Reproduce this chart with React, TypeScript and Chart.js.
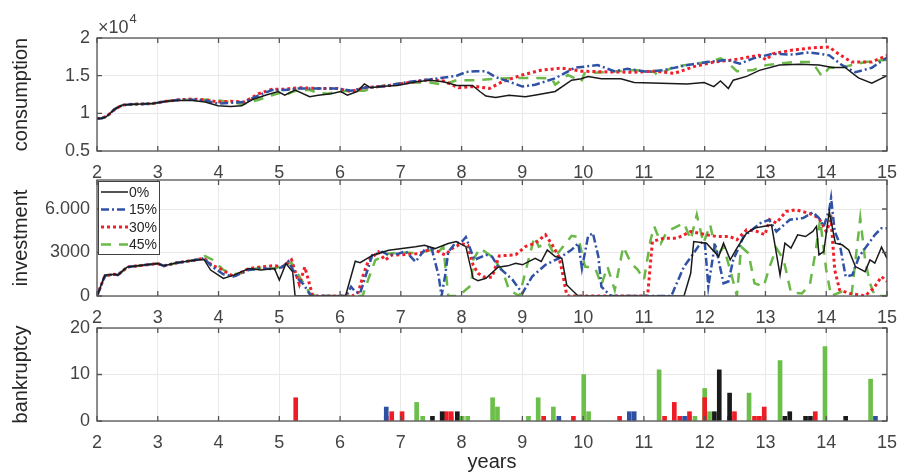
import React, { useEffect, useRef } from 'react';
import { Chart, registerables } from 'chart.js';

Chart.register(...registerables);

// ---------------- DATA ----------------
const seriesLabels = ['0%', '15%', '30%', '45%'];
const xTickValues = [2, 3, 4, 5, 6, 7, 8, 9, 10, 11, 12, 13, 14, 15];
const consTickValues = [5000, 10000, 15000, 20000];
const consTickLabels = ['0.5', '1', '1.5', '2'];
const invTickValues = [0, 3000, 6000];
const invTickLabels = ['0', '3000', '6.000'];
const bankTickValues = [0, 10, 20];
const bankTickLabels = ['0', '10', '20'];

// consumption [year, value]
const cons0: [number, number][] = [
  [2.0, 9300], [2.08, 9350], [2.16, 9600], [2.3, 10600], [2.42, 11100], [2.59, 11200], [2.75, 11250], [2.92, 11300],
  [3.14, 11600], [3.35, 11700], [3.57, 11700], [3.78, 11500], [3.99, 11000], [4.2, 10900], [4.38, 11000], [4.55, 11800],
  [4.77, 12400], [4.98, 12900], [5.09, 12400], [5.26, 13100], [5.5, 12200], [5.64, 12400], [5.85, 12600], [6.01, 12900],
  [6.12, 12400], [6.28, 12900], [6.4, 13900], [6.5, 13400], [6.72, 13600], [6.94, 13700], [7.26, 14200], [7.48, 14400],
  [7.7, 14200], [7.92, 13700], [8.18, 13700], [8.3, 12900], [8.4, 12300], [8.56, 12100], [8.78, 12400], [9.05, 12200],
  [9.27, 12500], [9.54, 12900], [9.81, 14400], [9.97, 14600], [10.08, 14900], [10.3, 14600], [10.62, 14600], [10.84, 14100],
  [11.28, 14000], [11.71, 13900], [11.99, 14100], [12.15, 13550], [12.26, 14300], [12.39, 13300], [12.47, 14400], [12.69, 14900],
  [12.9, 15700], [13.23, 16400], [13.56, 16500], [13.88, 16400], [14.1, 16100], [14.31, 16100], [14.53, 14700], [14.75, 14000],
  [15.0, 15000],
];
const cons15: [number, number][] = [
  [2.0, 9300], [2.08, 9350], [2.16, 9600], [2.3, 10600], [2.42, 11100], [2.59, 11200], [2.75, 11250], [2.92, 11300],
  [3.14, 11600], [3.35, 11800], [3.57, 11800], [3.78, 11700], [3.99, 11300], [4.2, 11400], [4.42, 11500], [4.66, 12400],
  [4.88, 13100], [5.09, 13100], [5.31, 13300], [5.64, 13300], [5.96, 13300], [6.18, 13000], [6.4, 13400], [6.72, 13600],
  [7.15, 14200], [7.48, 14500], [7.75, 14800], [7.92, 15000], [8.08, 15500], [8.24, 15600], [8.4, 15600], [8.56, 14800],
  [8.78, 14200], [9.0, 13550], [9.21, 13800], [9.54, 14650], [9.86, 16050], [10.24, 16400], [10.51, 15600], [10.73, 15900],
  [11.06, 15500], [11.33, 15750], [11.71, 16400], [12.04, 16800], [12.37, 17100], [12.58, 16600], [12.8, 17300], [13.12, 17900],
  [13.45, 17800], [13.72, 18100], [14.05, 17700], [14.26, 16400], [14.48, 15450], [14.75, 16050], [15.0, 17400],
];
const cons30: [number, number][] = [
  [2.0, 9300], [2.08, 9350], [2.16, 9600], [2.3, 10600], [2.42, 11100], [2.59, 11200], [2.75, 11250], [2.92, 11300],
  [3.14, 11600], [3.35, 11800], [3.57, 11900], [3.78, 11800], [3.99, 11500], [4.2, 11600], [4.42, 11500], [4.66, 12600],
  [4.88, 13200], [5.09, 13200], [5.31, 13400], [5.64, 13300], [5.96, 13300], [6.18, 12900], [6.4, 13400], [6.72, 13600],
  [7.15, 14100], [7.48, 14500], [7.7, 14300], [7.95, 13400], [8.1, 13500], [8.24, 13550], [8.46, 13300], [8.67, 14200],
  [9.0, 15100], [9.32, 15750], [9.65, 16000], [9.97, 15600], [10.4, 15500], [10.84, 15450], [11.17, 15600], [11.5, 15300],
  [11.82, 16200], [12.15, 16800], [12.47, 17100], [12.9, 17700], [13.01, 17100], [13.12, 17900], [13.45, 18400], [13.77, 18700],
  [14.05, 18800], [14.2, 17900], [14.42, 16800], [14.75, 16800], [15.0, 17700],
];
const cons45: [number, number][] = [
  [2.0, 9300], [2.08, 9350], [2.16, 9600], [2.3, 10600], [2.42, 11100], [2.59, 11200], [2.75, 11250], [2.92, 11300],
  [3.14, 11600], [3.35, 11800], [3.57, 11800], [3.8, 11800], [4.0, 11700], [4.2, 11500], [4.4, 11200], [4.66, 11800],
  [4.88, 12400], [5.0, 12700], [5.09, 12400], [5.2, 12800], [5.31, 13100], [5.5, 13100], [5.64, 12700], [5.8, 12600],
  [5.96, 12900], [6.18, 13000], [6.4, 13000], [6.6, 13500], [6.8, 13800], [7.15, 14100], [7.48, 14100], [7.7, 13800],
  [7.92, 14400], [8.24, 14400], [8.56, 14600], [9.0, 14700], [9.48, 14650], [9.54, 13800], [9.75, 15100], [9.97, 14200],
  [10.02, 15300], [10.4, 15500], [10.84, 15750], [11.17, 15500], [11.22, 15100], [11.5, 16200], [12.04, 16800], [12.26, 17300],
  [12.37, 16800], [12.53, 15600], [12.8, 15750], [13.01, 16400], [13.45, 16800], [13.77, 16800], [13.93, 14900], [14.05, 16050],
  [14.31, 16200], [14.64, 16800], [15.0, 17100],
];

// investment [year, value]
const inv0: [number, number][] = [
  [2.0, 0], [2.13, 1440], [2.29, 1500], [2.34, 1440], [2.5, 2000], [2.78, 2130], [3.0, 2240], [3.1, 2080], [3.32, 2290],
  [3.6, 2470], [3.76, 2520], [3.87, 1790], [4.08, 1210], [4.25, 1440], [4.5, 1900], [4.7, 1790], [4.92, 1900], [5.0, 1100],
  [5.11, 2240], [5.22, 1670], [5.26, 0], [5.5, 0], [6.0, 0], [6.09, 0], [6.25, 2400], [6.33, 2300], [6.53, 2800],
  [6.8, 3160], [7.02, 3270], [7.24, 3390], [7.39, 3500], [7.56, 3270], [7.78, 3620], [7.91, 3760], [8.07, 3400], [8.19, 1220],
  [8.27, 1060], [8.4, 1220], [8.6, 1980], [8.76, 2080], [8.89, 2260], [9.0, 2150], [9.21, 2600], [9.31, 2380], [9.41, 3180],
  [9.54, 2720], [9.65, 2600], [9.73, 760], [9.9, 70], [9.93, 0], [11.66, 0], [11.77, 1570], [11.82, 3760], [12.03, 3640],
  [12.23, 2720], [12.31, 3640], [12.42, 2490], [12.53, 3300], [12.69, 4340], [12.82, 4680], [12.96, 4800], [13.1, 4900],
  [13.24, 1450], [13.32, 3640], [13.42, 3300], [13.53, 4220], [13.66, 4100], [13.78, 4450], [13.84, 4800], [13.88, 2840],
  [13.96, 3070], [14.05, 5840], [14.15, 3640], [14.26, 3530], [14.37, 3180], [14.48, 2030], [14.64, 1680], [14.72, 2490],
  [14.8, 2260], [14.91, 3370], [15.0, 2600],
];
const inv15: [number, number][] = [
  [2.0, 0], [2.13, 1400], [2.29, 1500], [2.34, 1440], [2.5, 2000], [2.78, 2130], [3.0, 2240], [3.1, 2080], [3.32, 2290],
  [3.6, 2470], [3.76, 2600], [3.9, 2000], [4.08, 1500], [4.25, 1350], [4.5, 1800], [4.7, 1900], [4.92, 1850], [5.05, 2000],
  [5.15, 2400], [5.3, 1220], [5.4, 800], [5.52, 0], [6.1, 0], [6.18, 640], [6.25, 300], [6.33, 180], [6.53, 2820], [6.7, 3040],
  [6.8, 2820], [6.97, 2930], [7.08, 3090], [7.24, 2360], [7.4, 3230], [7.5, 3390], [7.62, 1440], [7.67, 0], [7.73, 1440],
  [7.78, 3040], [7.89, 3620], [8.0, 3730], [8.07, 4060], [8.21, 2490], [8.4, 2840], [8.5, 2720], [8.6, 2030], [8.84, 1110],
  [9.0, 180], [9.16, 1340], [9.38, 2150], [9.6, 2600], [9.81, 3180], [9.92, 3640], [9.98, 1900], [10.08, 4100], [10.16, 4340],
  [10.25, 2720], [10.3, 650], [10.41, 180], [10.46, 0], [11.45, 0], [11.66, 2030], [11.8, 2840], [11.93, 3640], [12.0, 3760],
  [12.06, 650], [12.17, 3640], [12.31, 880], [12.39, 1000], [12.47, 2490], [12.64, 4100], [12.92, 5030], [13.06, 5260],
  [13.18, 4450], [13.4, 5260], [13.62, 5380], [13.78, 5770], [13.88, 5380], [13.96, 4800], [14.05, 5950], [14.08, 6760],
  [14.14, 4450], [14.22, 3640], [14.32, 1340], [14.43, 1450], [14.54, 2720], [14.7, 3640], [14.8, 4220], [14.91, 4680],
  [15.0, 4680],
];
const inv30: [number, number][] = [
  [2.0, 0], [2.13, 1400], [2.29, 1500], [2.34, 1440], [2.5, 2000], [2.78, 2130], [3.0, 2240], [3.1, 2080], [3.32, 2290],
  [3.6, 2470], [3.76, 2600], [3.9, 2100], [4.0, 1950], [4.25, 1350], [4.5, 1900], [4.7, 2000], [4.92, 2100], [5.05, 2000],
  [5.2, 2500], [5.33, 800], [5.42, 2000], [5.55, 0], [6.2, 0], [6.3, 250], [6.38, 1440], [6.47, 2470], [6.63, 3040],
  [6.74, 2470], [6.85, 2820], [7.08, 2860], [7.3, 2930], [7.52, 3270], [7.73, 2820], [7.84, 3270], [8.0, 3620], [8.1, 3500],
  [8.19, 2130], [8.27, 1560], [8.38, 1300], [8.5, 1300], [8.62, 2770], [8.89, 2840], [9.05, 3410], [9.21, 3640], [9.38, 4220],
  [9.49, 3530], [9.6, 2720], [9.65, 1800], [9.73, 70], [9.76, 0], [11.06, 0], [11.14, 3760], [11.33, 3990], [11.55, 3990],
  [11.77, 4450], [12.03, 4220], [12.2, 4100], [12.42, 4100], [12.53, 3880], [12.69, 4570], [12.86, 4450], [12.99, 4220],
  [13.07, 5260], [13.18, 5030], [13.34, 5840], [13.5, 5950], [13.73, 5680], [13.88, 5380], [14.0, 4450], [14.08, 5260],
  [14.14, 1800], [14.22, 420], [14.38, 180], [14.64, 0], [14.78, 530], [14.91, 1340], [15.0, 1000],
];
const inv45: [number, number][] = [
  [2.0, 0], [2.13, 1400], [2.29, 1500], [2.34, 1440], [2.5, 2000], [2.78, 2130], [3.0, 2240], [3.1, 2080], [3.32, 2290],
  [3.6, 2470], [3.78, 2750], [3.9, 2500], [4.08, 1800], [4.25, 1500], [4.4, 1600], [4.5, 1800], [4.7, 1950], [4.92, 1900],
  [5.05, 2100], [5.2, 2300], [5.35, 1200], [5.5, 200], [5.6, 0], [6.37, 0], [6.47, 1210], [6.58, 2470], [6.8, 2930],
  [7.08, 3000], [7.3, 2930], [7.46, 3160], [7.62, 3040], [7.7, 3400], [7.78, 0], [7.95, 0], [8.16, 750], [8.19, 2490],
  [8.3, 3300], [8.5, 2720], [8.68, 1680], [8.78, 420], [8.95, 0], [9.1, 2490], [9.2, 4100], [9.27, 3400], [9.43, 3640],
  [9.54, 2720], [9.81, 4150], [9.92, 4060], [10.03, 2030], [10.2, 1900], [10.3, 760], [10.4, 2030], [10.52, 420],
  [10.66, 3400], [10.79, 2260], [10.9, 1800], [11.0, 1110], [11.11, 3880], [11.17, 4800], [11.28, 3640], [11.38, 4450],
  [11.55, 4800], [11.66, 5030], [11.77, 3880], [11.87, 5610], [11.98, 3640], [12.09, 4920], [12.2, 2720], [12.31, 3400],
  [12.42, 1800], [12.53, 0], [12.6, 3400], [12.72, 2950], [12.82, 880], [12.97, 650], [13.07, 2030], [13.18, 3300],
  [13.3, 2490], [13.42, 230], [13.6, 180], [13.73, 760], [13.82, 2950], [13.9, 5260], [14.0, 1800], [14.08, 0], [14.26, 300],
  [14.42, 180], [14.56, 5380], [14.64, 2490], [14.72, 880], [14.8, 0], [15.0, 0],
];

// bankruptcy [year, count]
const bank0: [number, number][] = [
  [7.52, 1], [7.68, 2], [7.93, 2], [12.16, 2], [12.24, 11], [12.41, 6], [13.32, 1], [13.4, 2], [13.66, 1], [13.74, 1], [14.32, 1],
];
const bank15: [number, number][] = [
  [6.76, 3], [9.6, 1], [10.76, 2], [10.84, 2], [11.67, 1], [12.41, 1], [14.81, 1],
];
const bank30: [number, number][] = [
  [5.27, 5], [6.76, 1], [6.85, 2], [7.02, 2], [7.75, 2], [7.83, 2], [9.35, 1], [9.84, 1], [10.6, 1], [11.34, 1], [11.5, 4],
  [11.59, 1], [11.75, 2], [12.0, 5], [12.49, 2], [12.82, 1], [12.9, 1], [12.98, 3], [13.82, 2],
];
const bank45: [number, number][] = [
  [7.26, 4], [7.36, 1], [7.83, 1], [8.01, 1], [8.1, 1], [8.51, 5], [8.59, 3], [9.1, 1], [9.26, 5], [9.51, 3], [10.01, 10],
  [10.09, 2], [11.25, 11], [11.75, 1], [11.84, 1], [12.0, 7], [12.08, 2], [12.73, 6], [13.24, 13], [13.98, 16], [14.73, 9],
];

// ---------------- STYLE ----------------
const FONT = "'Liberation Sans', Arial, Helvetica, sans-serif";
const tickFont = { family: FONT, size: 18 };
const titleFont = { family: FONT, size: 20 };
const tickColor = '#444444';
const titleColor = '#262626';
const gridColor = '#e9e9e9';
const boxColor = '#555555';
const W = 908;
const H = 474;
const PLOT_LEFT = 97;
const PLOT_RIGHT = 895;

const lineStyles = [
  { color: '#1a1a1a', width: 1.5, dash: [] as number[] },
  { color: '#2f52a6', width: 2.5, dash: [8, 3, 2, 3] },
  { color: '#f0202a', width: 3, dash: [3, 3] },
  { color: '#6ab948', width: 2.5, dash: [10, 8] },
];
const barColors = ['#1a1a1a', '#2f4fa3', '#ee1c25', '#6cbf4a'];

const toPts = (arr: [number, number][]) => arr.map(([x, y]) => ({ x, y }));

// box + inward tick marks
const boxPlugin = {
  id: 'matlabBox',
  afterDatasetsDraw(chart: any) {
    const { ctx, chartArea: a, scales } = chart;
    ctx.save();
    ctx.strokeStyle = boxColor;
    ctx.lineWidth = 1.3;
    ctx.strokeRect(a.left, a.top, a.right - a.left, a.bottom - a.top);
    ctx.beginPath();
    const L = 5;
    scales.x.ticks.forEach((t: any) => {
      const px = scales.x.getPixelForValue(t.value);
      ctx.moveTo(px, a.bottom);
      ctx.lineTo(px, a.bottom - L);
      ctx.moveTo(px, a.top);
      ctx.lineTo(px, a.top + L);
    });
    scales.y.ticks.forEach((t: any) => {
      const py = scales.y.getPixelForValue(t.value);
      ctx.moveTo(a.left, py);
      ctx.lineTo(a.left + L, py);
      ctx.moveTo(a.right, py);
      ctx.lineTo(a.right - L, py);
    });
    ctx.stroke();
    ctx.restore();
  },
};

// x10^4 exponent label
const exponentPlugin = {
  id: 'exponent',
  afterDraw(chart: any) {
    const { ctx, chartArea: a } = chart;
    ctx.save();
    ctx.fillStyle = tickColor;
    ctx.textBaseline = 'alphabetic';
    ctx.textAlign = 'left';
    ctx.font = `18px ${FONT}`;
    const base = '\u00d710';
    const x0 = a.left + 1;
    const y0 = a.top - 5;
    ctx.fillText(base, x0, y0);
    const w = ctx.measureText(base).width;
    ctx.font = `13px ${FONT}`;
    ctx.fillText('4', x0 + w + 1, y0 - 10);
    ctx.restore();
  },
};

// MATLAB-like boxed legend inside plot area
const legendPlugin = {
  id: 'boxLegend',
  afterDraw(chart: any) {
    const { ctx, chartArea: a } = chart;
    const x = a.left + 1;
    const y = a.top + 1;
    const w = 61;
    const h = 73;
    ctx.save();
    ctx.fillStyle = '#ffffff';
    ctx.fillRect(x, y, w, h);
    ctx.strokeStyle = '#404040';
    ctx.lineWidth = 1;
    ctx.strokeRect(x + 0.5, y + 0.5, w, h);
    ctx.font = `14px ${FONT}`;
    ctx.textBaseline = 'middle';
    ctx.textAlign = 'left';
    chart.data.datasets.forEach((ds: any, i: number) => {
      const ry = y + 11 + i * 17.5;
      ctx.beginPath();
      ctx.strokeStyle = ds.borderColor;
      ctx.lineWidth = ds.borderWidth;
      ctx.setLineDash(ds.borderDash || []);
      ctx.moveTo(x + 3, ry);
      ctx.lineTo(x + 30, ry);
      ctx.stroke();
      ctx.setLineDash([]);
      ctx.fillStyle = titleColor;
      ctx.fillText(ds.label, x + 31, ry + 1);
    });
    ctx.restore();
  },
};

function xScale(height: number, title?: string) {
  return {
    type: 'linear',
    min: 2,
    max: 15,
    offset: false,
    afterBuildTicks: (s: any) => {
      s.ticks = xTickValues.map((v) => ({ value: v }));
    },
    afterFit: (s: any) => {
      s.height = height;
    },
    ticks: {
      font: tickFont,
      color: tickColor,
      padding: 11,
      maxRotation: 0,
      autoSkip: false,
      callback: (v: any) => String(v),
    },
    grid: { color: gridColor, drawTicks: false, offset: false, lineWidth: 1 },
    border: { display: false },
    title: title
      ? { display: true, text: title, font: titleFont, color: titleColor, padding: { top: 0, bottom: 0 } }
      : { display: false },
  };
}

function yScale(min: number, max: number, values: number[], labels: string[], title: string) {
  return {
    type: 'linear',
    min,
    max,
    afterBuildTicks: (s: any) => {
      s.ticks = values.map((v) => ({ value: v }));
    },
    afterFit: (s: any) => {
      s.width = PLOT_LEFT;
    },
    ticks: {
      font: tickFont,
      color: tickColor,
      padding: 7,
      callback: (v: any) => {
        const i = values.indexOf(v);
        return i >= 0 ? labels[i] : '';
      },
    },
    grid: { color: gridColor, drawTicks: false, lineWidth: 1 },
    border: { display: false },
    title: { display: true, text: title, font: titleFont, color: titleColor, padding: { top: 9, bottom: 0 } },
  };
}

function lineDatasets(series: [number, number][][]) {
  return series.map((s, i) => ({
    label: seriesLabels[i],
    data: toPts(s),
    borderColor: lineStyles[i].color,
    backgroundColor: lineStyles[i].color,
    borderWidth: lineStyles[i].width,
    borderDash: lineStyles[i].dash,
    pointRadius: 0,
    tension: 0,
    fill: false,
  }));
}

function baseOptions(padTop: number, padBottom: number) {
  return {
    responsive: false,
    animation: false,
    events: [],
    layout: { padding: { top: padTop, bottom: padBottom, left: 0, right: W - PLOT_RIGHT } },
    plugins: { legend: { display: false }, tooltip: { enabled: false } },
  };
}

export default function App() {
  const c1 = useRef<HTMLCanvasElement>(null);
  const c2 = useRef<HTMLCanvasElement>(null);
  const c3 = useRef<HTMLCanvasElement>(null);

  useEffect(() => {
    const charts: Chart[] = [];

    // consumption: plot area 38..151
    charts.push(
      new Chart(c1.current as HTMLCanvasElement, {
        type: 'line',
        data: { datasets: lineDatasets([cons0, cons15, cons30, cons45]) as any },
        options: {
          ...(baseOptions(38, H - 151 - 30) as any),
          scales: {
            x: xScale(30),
            y: yScale(5000, 20000, consTickValues, consTickLabels, 'consumption'),
          },
        },
        plugins: [boxPlugin, exponentPlugin],
      } as any)
    );

    // investment: plot area 180..296
    charts.push(
      new Chart(c2.current as HTMLCanvasElement, {
        type: 'line',
        data: { datasets: lineDatasets([inv0, inv15, inv30, inv45]) as any },
        options: {
          ...(baseOptions(180, H - 296 - 30) as any),
          scales: {
            x: xScale(30),
            y: yScale(0, 8000, invTickValues, invTickLabels, 'investment'),
          },
        },
        plugins: [boxPlugin, legendPlugin],
      } as any)
    );

    // bankruptcy: plot area 328..421
    charts.push(
      new Chart(c3.current as HTMLCanvasElement, {
        type: 'bar',
        data: {
          datasets: [bank0, bank15, bank30, bank45].map((s, i) => ({
            label: seriesLabels[i],
            data: toPts(s),
            backgroundColor: barColors[i],
            borderWidth: 0,
            barThickness: 4,
            grouped: false,
          })) as any,
        },
        options: {
          ...(baseOptions(328, 0) as any),
          scales: {
            x: xScale(H - 421, 'years'),
            y: yScale(0, 20, bankTickValues, bankTickLabels, 'bankruptcy'),
          },
        },
        plugins: [boxPlugin],
      } as any)
    );

    return () => charts.forEach((c) => c.destroy());
  }, []);

  const cs: React.CSSProperties = { position: 'absolute', left: 0, top: 0 };
  return (
    <div style={{ position: 'fixed', left: 0, top: 0, width: W, height: H, background: '#ffffff' }}>
      <canvas ref={c1} width={W} height={H} style={cs} />
      <canvas ref={c2} width={W} height={H} style={cs} />
      <canvas ref={c3} width={W} height={H} style={cs} />
    </div>
  );
}
